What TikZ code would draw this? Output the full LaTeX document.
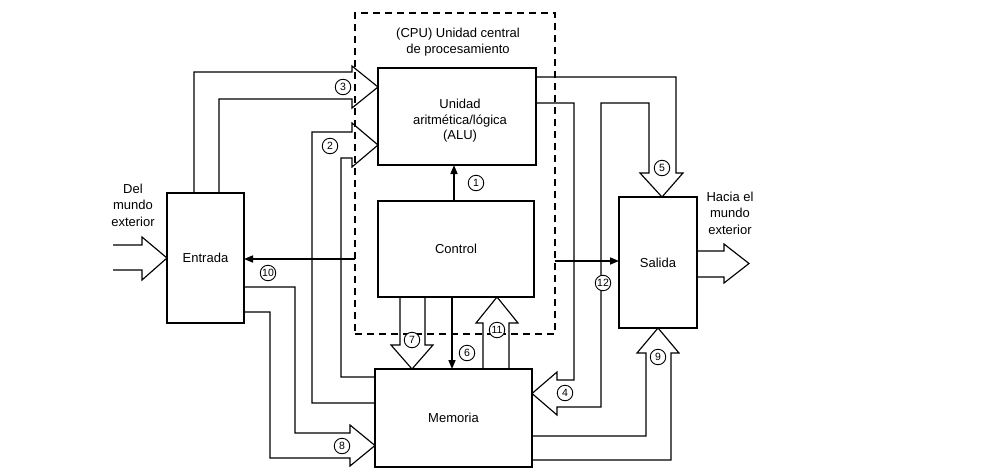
\documentclass[tikz,border=0pt]{standalone}
\usepackage{fontspec}
\setmainfont{Liberation Sans}
\usetikzlibrary{arrows.meta}
\tikzset{
  box/.style={draw, line width=1.2pt, inner sep=0pt, outer sep=0pt, align=center,
    font=\fontsize{13}{15.5}\selectfont},
  cpubox/.style={draw, line width=1.1pt, dash pattern=on 7pt off 5pt, inner sep=0pt, outer sep=0pt},
  fat/.style={draw, line width=1.15pt, line join=miter},
  sig/.style={line width=1.6pt, -{Triangle[length=9pt,width=7pt]}},
  num/.style={circle, draw, fill=white, line width=0.9pt, minimum size=15.5pt, inner sep=0pt,
    font=\fontsize{10.5}{10.5}\selectfont},
  lbl/.style={align=center, inner sep=0pt, font=\fontsize{13}{16.5}\selectfont}
}
\begin{document}
\begin{tikzpicture}[x=1pt,y=-1pt]
\fill[white] (0,0) rectangle (1006,469);
\useasboundingbox (0,0) rectangle (1006,469);

% CPU dashed region
\node[cpubox, minimum width=200pt, minimum height=321pt] (cpu) at (455,173.5) {};
\node[lbl] (cputxt) at (458,42) {(CPU) Unidad central\\de procesamiento};

% boxes
\node[box, minimum width=158pt, minimum height=97pt] (alu) at (457,116.5) {};
\node[lbl, font=\fontsize{13}{15.5}\selectfont] (alutxt) at (460,121) {Unidad\\aritmética/lógica\\(ALU)};
\node[box, minimum width=156pt, minimum height=96pt] (ctrl) at (456,249) {Control};
\node[box, minimum width=77pt, minimum height=130pt] (ent) at (205.5,258) {Entrada};
\node[box, minimum width=78pt, minimum height=131pt] (sal) at (658,262.5) {Salida};
\node[box, minimum width=157pt, minimum height=98pt] (mem) at (453.5,418) {Memoria};

% outside world labels
\node[lbl] (delmundo) at (133,205) {Del\\mundo\\exterior};
\node[lbl] (hacia) at (730,213) {Hacia el\\mundo\\exterior};

% input / output fat arrows
\draw[fat] (113,245) -- (142,245) -- (142,237) -- (ent.west |- 0,258) -- (142,280) -- (142,270) -- (113,270);
\draw[fat] (sal.east |- 0,251) -- (724,251) -- (724,244) -- (749,263.5) -- (724,283) -- (724,277) -- (sal.east |- 0,277);

% 3: Entrada -> ALU
\draw[fat] (ent.north -| 194,0) |- (352,72) -- (352,66) -- (alu.west |- 0,87) -- (352,108) -- (352,99) -| (ent.north -| 219,0);
% 2: Memoria -> ALU
\draw[fat] (mem.west |- 0,403) -| (312,132) -- (352,132) -- (352,123) -- (alu.west |- 0,145) -- (352,167) -- (352,158) -| (341,377) -- (mem.west |- 0,377);
% 8: Entrada -> Memoria
\draw[fat] (ent.east |- 0,287) -| (295,433) -- (350,433) -- (350,425) -- (mem.west |- 0,445.5) -- (350,466) -- (350,458) -| (270,312) -- (ent.east |- 0,312);
% 7: Control -> Memoria
\draw[fat] (ctrl.south -| 400,0) -- (400,345) -- (391,345) -- (mem.north -| 412,0) -- (433,345) -- (425,345) -- (ctrl.south -| 425,0);
% 11: Memoria -> Control
\draw[fat] (mem.north -| 483,0) -- (483,323) -- (476,323) -- (ctrl.south -| 497,0) -- (518,323) -- (509,323) -- (mem.north -| 509,0);
% 5 and 4: ALU -> Salida and ALU -> Memoria
\draw[fat] (alu.east |- 0,77) -| (676,173) -- (683,173) -- (sal.north -| 662,0) -- (640,173) -- (649,173) |- (601,103) -- (601,407) -- (557,407) -- (557,415) -- (mem.east |- 0,393.5) -- (557,372) -- (557,380) -| (574,103) -- (alu.east |- 0,103);
% 9: Memoria -> Salida
\draw[fat] (mem.east |- 0,436) -| (646,353) -- (637,353) -- (sal.south -| 658,0) -- (679,353) -- (671,353) |- (mem.east |- 0,460);

% single-line control signals
\draw[sig] (ctrl.north -| 454,0) -- (alu.south -| 454,0);
\draw[sig] (ctrl.south -| 452,0) -- (mem.north -| 452,0);
\draw[sig] (cpu.west |- 0,259) -- (ent.east |- 0,259);
\draw[sig] (cpu.east |- 0,261) -- (sal.west |- 0,261);

% numbered circles
\node[num] (n1) at (476,183) {1};
\node[num] (n2) at (330,146) {2};
\node[num] (n3) at (343,87) {3};
\node[num] (n4) at (565,393) {4};
\node[num] (n5) at (662,168) {5};
\node[num] (n6) at (467,353) {6};
\node[num] (n7) at (412,340) {7};
\node[num] (n8) at (342,446) {8};
\node[num] (n9) at (658,357) {9};
\node[num] (n10) at (268,273) {10};
\node[num] (n11) at (497,330) {11};
\node[num] (n12) at (603,283) {12};
\end{tikzpicture}
\end{document}
